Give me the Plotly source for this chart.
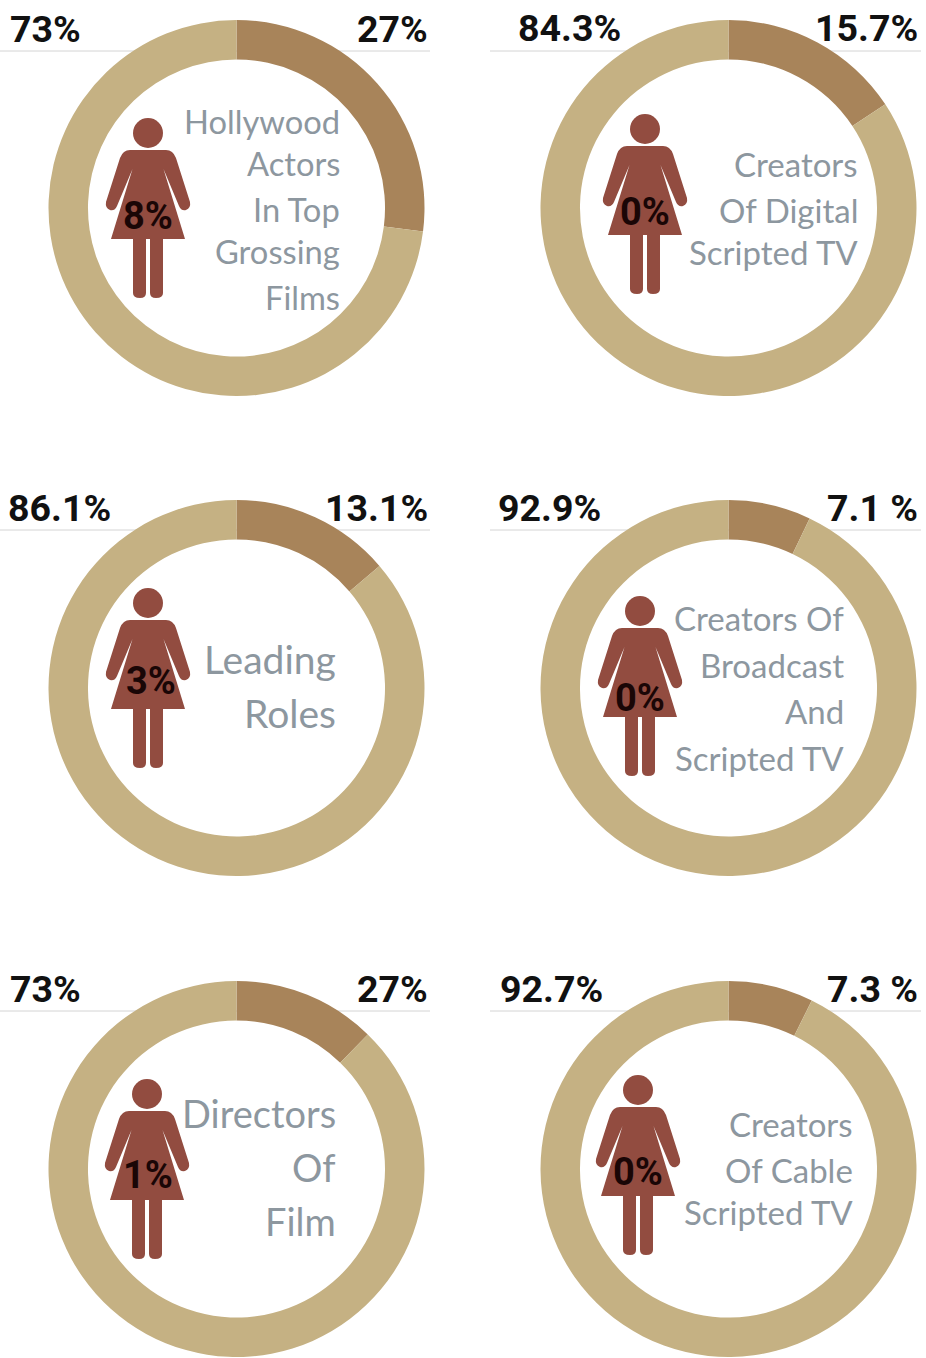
import plotly.graph_objects as go

W, H = 926, 1358

# Data
women_slice = [27, 15.7, 13.75, 7.1, 12.3, 7.3]
other_slice = [73, 84.3, 86.25, 92.9, 87.7, 92.7]
left_labels = ["73%", "84.3%", "86.1%", "92.9%", "73%", "92.7%"]
right_labels = ["27%", "15.7%", "13.1%", "7.1 %", "27%", "7.3 %"]
icon_labels = ["8%", "0%", "3%", "0%", "1%", "0%"]
captions = [
    ["Hollywood", "Actors", "In Top", "Grossing", "Films"],
    ["Creators", "Of Digital", "Scripted TV"],
    ["Leading", "Roles"],
    ["Creators Of", "Broadcast", "And", "Scripted TV"],
    ["Directors", "Of", "Film"],
    ["Creators", "Of Cable", "Scripted TV"],
]

# Layout in reference pixels
centers = [(236.5, 208), (728.5, 208), (236.5, 688), (728.5, 688), (236.5, 1169), (728.5, 1169)]
RADIUS = 188
heads = [(148, 133), (645, 129), (148, 603), (640, 611), (147, 1094), (638, 1090)]
icon_text_xy = [(148, 216), (645, 212), (151, 681), (640, 698), (148, 1175), (638, 1172)]
rule_y = [51, 51, 530, 530, 1011, 1011]
rule_x = [(0, 430), (490, 921), (0, 430), (490, 921), (0, 430), (490, 921)]
label_y = [29, 28, 508, 508, 989, 989]
left_x = [10, 518, 8, 498, 10, 500]
right_x = [428, 918, 428, 918, 428, 918]
caption_right = [340, 858, 336, 844, 336, 853]
caption_y = [
    [121, 163, 209, 251, 297],
    [164, 210, 252],
    [659, 713],
    [618, 665, 711, 758],
    [1113, 1167, 1221],
    [1124, 1170, 1212],
]
caption_size = [32.7, 33, 39, 33, 38, 33]

LIGHT = "#c5b183"
DARK = "#a8845a"
ICON = "#924c40"
GREY = "#8d979f"
BIG = "Roboto, Liberation Sans, Arial, sans-serif"
CAP = "Lato, sans-serif"


def fx(px):
    return px / W


def fy(py):
    return 1 - py / H


def path(points):
    out = []
    for cmd, *vals in points:
        coords = [f"{fx(vals[i]):.5f},{fy(vals[i + 1]):.5f}" for i in range(0, len(vals), 2)]
        out.append(cmd + " ".join(coords))
    return " ".join(out) + " Z"


def woman(hx, hy):
    def p(cmd, *v):
        shifted = []
        for i in range(0, len(v), 2):
            shifted += [hx + v[i], hy + v[i + 1]]
        return (cmd, *shifted)

    body = [
        p("M", -18, 17), p("L", 18, 17), p("Q", 25, 17, 28, 25), p("L", 42, 69),
        p("Q", 43, 75, 38, 77), p("Q", 33, 78, 31, 73), p("L", 15.5, 36), p("L", 37, 106),
        p("L", -37, 106), p("L", -15.5, 36), p("L", -31, 73), p("Q", -33, 78, -38, 77),
        p("Q", -43, 75, -42, 69), p("L", -28, 25), p("Q", -25, 17, -18, 17),
    ]
    left_leg = [p("M", -15, 106), p("L", -2, 106), p("L", -2, 160), p("Q", -2, 165, -8, 165),
                p("Q", -15, 165, -15, 160)]
    right_leg = [p("M", 2, 106), p("L", 15, 106), p("L", 15, 160), p("Q", 15, 165, 8, 165),
                 p("Q", 2, 165, 2, 160)]
    shapes = [dict(type="circle", xref="paper", yref="paper", x0=fx(hx - 15), x1=fx(hx + 15),
                   y0=fy(hy + 15), y1=fy(hy - 15), fillcolor=ICON, line_width=0, layer="above")]
    for part in (body, left_leg, right_leg):
        shapes.append(dict(type="path", xref="paper", yref="paper", path=path(part),
                           fillcolor=ICON, line_width=0, layer="above"))
    return shapes


fig = go.Figure()
shapes, annotations = [], []


def note(x, y, text, size, color, family, anchor, weight="normal"):
    annotations.append(dict(x=fx(x), y=fy(y), xref="paper", yref="paper", text=text, showarrow=False,
                            xanchor=anchor, yanchor="middle", align=anchor,
                            font=dict(size=size, color=color, family=family, weight=weight),
                            borderpad=0, borderwidth=0))


for i, (cx, cy) in enumerate(centers):
    fig.add_trace(go.Pie(
        values=[women_slice[i], other_slice[i]], labels=["Women", "Men"], hole=0.79,
        sort=False, direction="clockwise", rotation=0, textinfo="none", showlegend=False,
        marker=dict(colors=[DARK, LIGHT], line=dict(width=0)),
        domain=dict(x=[fx(cx - RADIUS), fx(cx + RADIUS)], y=[fy(cy + RADIUS), fy(cy - RADIUS)]),
    ))
    shapes.append(dict(type="line", xref="paper", yref="paper", x0=fx(rule_x[i][0]), x1=fx(rule_x[i][1]),
                       y0=fy(rule_y[i]), y1=fy(rule_y[i]), line=dict(color="#d4d4d4", width=1), layer="below"))
    shapes += woman(*heads[i])
    note(left_x[i], label_y[i], left_labels[i], 37.5, "#111111", BIG, "left", 700)
    note(right_x[i], label_y[i], right_labels[i], 37.5, "#111111", BIG, "right", 700)
    note(icon_text_xy[i][0], icon_text_xy[i][1], icon_labels[i], 38, "#1a0606", BIG, "center", 700)
    for text, y in zip(captions[i], caption_y[i]):
        note(caption_right[i], y, text, caption_size[i], GREY, CAP, "right")

fig.update_layout(width=W, height=H, margin=dict(l=0, r=0, t=0, b=0), paper_bgcolor="white",
                  plot_bgcolor="white", shapes=shapes, annotations=annotations, showlegend=False)
fig.write_html("out.html", config={"displayModeBar": False},
               post_script="document.body.style.margin='0';document.body.style.overflow='hidden';")
